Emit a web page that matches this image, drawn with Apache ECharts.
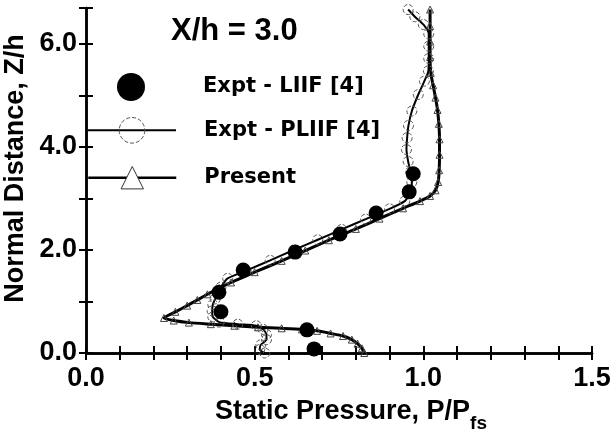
<!DOCTYPE html>
<html>
<head>
<meta charset="utf-8">
<script src="https://cdn.jsdelivr.net/npm/echarts@6/dist/echarts.min.js"></script>
<style>
  html, body { margin: 0; padding: 0; background: #fff; }
  #chart { width: 611px; height: 432px; }
</style>
</head>
<body>
<div id="chart"></div>
<script>
// Static pressure profile at X/h = 3.0: [P/Pfs, Z/h]
const liifPoints = [
  [0.676, 0.08], [0.655, 0.45], [0.400, 0.80], [0.394, 1.18], [0.466, 1.61],
  [0.620, 1.96], [0.753, 2.31], [0.860, 2.72], [0.958, 3.13], [0.970, 3.48]
];

const pliifPoints = [
  [0.530, 0.00], [0.515, 0.07], [0.518, 0.16], [0.535, 0.26], [0.535, 0.36],
  [0.525, 0.46], [0.505, 0.53], [0.450, 0.56], [0.395, 0.60], [0.376, 0.70],
  [0.374, 0.82], [0.376, 0.94], [0.383, 1.05], [0.392, 1.16], [0.400, 1.28],
  [0.420, 1.45], [0.475, 1.60], [0.546, 1.80], [0.616, 2.00], [0.687, 2.20],
  [0.758, 2.40], [0.829, 2.60], [0.900, 2.80], [0.945, 2.95], [0.962, 3.12],
  [0.966, 3.32], [0.962, 3.52], [0.955, 3.72], [0.950, 3.95], [0.952, 4.18],
  [0.956, 4.42], [0.966, 4.70], [0.985, 5.02], [1.003, 5.28], [1.015, 5.48],
  [1.016, 5.72], [1.016, 5.96], [1.016, 6.20], [1.000, 6.38], [0.975, 6.53],
  [0.955, 6.67]
];

const presentPoints = [
  [0.825, 0.00], [0.818, 0.09], [0.805, 0.18], [0.788, 0.26], [0.762, 0.33],
  [0.725, 0.38], [0.685, 0.43], [0.640, 0.46], [0.580, 0.48], [0.510, 0.50],
  [0.440, 0.53], [0.370, 0.56], [0.305, 0.59], [0.260, 0.63], [0.231, 0.68],
  [0.265, 0.80], [0.300, 0.92], [0.330, 1.03], [0.360, 1.14], [0.395, 1.26],
  [0.430, 1.37], [0.500, 1.57], [0.580, 1.79], [0.650, 1.99], [0.720, 2.19],
  [0.800, 2.41], [0.870, 2.61], [0.940, 2.81], [0.990, 2.95], [1.020, 3.05],
  [1.036, 3.16], [1.044, 3.32], [1.047, 3.55], [1.048, 3.85], [1.048, 4.15],
  [1.046, 4.45], [1.042, 4.72], [1.036, 4.96], [1.029, 5.20], [1.022, 5.44],
  [1.020, 5.75], [1.020, 6.05], [1.020, 6.35], [1.020, 6.67]
];

const xTickLabels = ['0.0', '0.5', '1.0', '1.5'];
const yTickLabels = ['0.0', '2.0', '4.0', '6.0'];

const seriesNames = ['Expt - LIIF [4]', 'Expt - PLIIF [4]', 'Present'];

const axisFont = 'Liberation Sans, Arial, sans-serif';
const legendFont = 'DejaVu Sans, Verdana, sans-serif';

// Filled disc centred in an 88 x 28 icon box (the corner moves pin the box size)
const discIcon = 'path://M0,0L0,0M88,28L88,28M58,14A14,14,0,1,1,30,14A14,14,0,1,1,58,14Z';

function tickFormatter(labels) {
  return function (v) {
    const s = (Math.round(v * 10) / 10).toFixed(1);
    return labels.indexOf(s) >= 0 && Math.abs(v * 10 - Math.round(v * 10)) < 1e-6 ? s : '';
  };
}

const frameLine = { show: true, lineStyle: { color: '#000', width: 2.5 } };
const innerTick = { show: true, inside: true, length: 7, lineStyle: { color: '#000', width: 2 } };

const legendBase = {
  orient: 'vertical',
  left: 87,
  padding: 0,
  itemWidth: 88,
  selectedMode: false,
  textStyle: {
    fontFamily: legendFont,
    fontWeight: 'bold',
    fontSize: 21,
    color: '#000',
    padding: [0, 0, 0, 23]
  }
};

const chart = echarts.init(document.getElementById('chart'), null, { renderer: 'canvas' });

chart.setOption({
  animation: false,
  backgroundColor: '#fff',
  title: {
    text: 'X/h = 3.0',
    left: 171,
    top: 16,
    padding: 0,
    textStyle: { fontFamily: axisFont, fontWeight: 'bold', fontSize: 31, color: '#000' }
  },
  legend: [
    Object.assign({}, legendBase, {
      top: 73, itemHeight: 28,
      data: [{ name: seriesNames[0], icon: discIcon, itemStyle: { color: '#000', opacity: 1 } }]
    }),
    Object.assign({}, legendBase, {
      top: 117, itemHeight: 32,
      data: [{
        name: seriesNames[1],
        lineStyle: { color: '#000', width: 2 },
        itemStyle: { color: 'rgba(255,255,255,0)', borderColor: '#555', borderWidth: 1, borderType: 'dashed' }
      }]
    }),
    Object.assign({}, legendBase, {
      top: 166, itemHeight: 28,
      data: [{
        name: seriesNames[2],
        lineStyle: { color: '#000', width: 2.5 },
        itemStyle: { color: '#fff', borderColor: '#333', borderWidth: 1 }
      }]
    })
  ],
  grid: { left: 86, right: 19, top: 8, bottom: 79, containLabel: false, outerBoundsMode: 'none' },
  xAxis: [
    {
      type: 'value', position: 'bottom', min: 0, max: 1.5, interval: 0.1,
      axisLine: frameLine, axisTick: innerTick, splitLine: { show: false },
      axisLabel: {
        formatter: tickFormatter(xTickLabels), margin: 12, showMinLabel: true, showMaxLabel: true,
        fontFamily: axisFont, fontWeight: 'bold', fontSize: 27, color: '#000'
      },
      name: '{a|Static Pressure, P/P}{b|fs}',
      nameLocation: 'middle', nameGap: 45,
      nameTextStyle: {
        padding: [0, 0, 0, 24],
        rich: {
          a: { fontFamily: axisFont, fontWeight: 'bold', fontSize: 27, color: '#000', lineHeight: 35, verticalAlign: 'top' },
          b: { fontFamily: axisFont, fontWeight: 'bold', fontSize: 19, color: '#000', lineHeight: 35, verticalAlign: 'bottom' }
        }
      }
    },
    {
      type: 'value', position: 'top', min: 0, max: 1.5, interval: 0.1,
      axisLine: frameLine, axisTick: innerTick, splitLine: { show: false },
      axisLabel: { show: false }
    }
  ],
  yAxis: [
    {
      type: 'value', position: 'left', min: 0, max: 6.7, interval: 1,
      axisLine: frameLine, axisTick: innerTick, splitLine: { show: false },
      axisLabel: {
        formatter: tickFormatter(yTickLabels), margin: 9,
        fontFamily: axisFont, fontWeight: 'bold', fontSize: 27, color: '#000'
      },
      name: 'Normal Distance, Z/h',
      nameLocation: 'middle', nameGap: 55, nameRotate: 90,
      nameTextStyle: {
        fontFamily: axisFont, fontWeight: 'bold', fontSize: 27, color: '#000',
        padding: [0, 0, 0, 24]
      }
    },
    {
      type: 'value', position: 'right', min: 0, max: 6.7, interval: 1,
      axisLine: frameLine, axisTick: innerTick, splitLine: { show: false },
      axisLabel: { show: false }
    }
  ],
  series: [
    {
      name: seriesNames[2], type: 'line', xAxisIndex: 0, yAxisIndex: 0,
      data: presentPoints, smooth: 0.2, showAllSymbol: true,
      symbol: 'triangle', symbolSize: 7,
      lineStyle: { color: '#000', width: 3 },
      itemStyle: { color: 'rgba(255,255,255,0)', borderColor: '#444', borderWidth: 1 },
      z: 2
    },
    {
      name: seriesNames[1], type: 'line', xAxisIndex: 0, yAxisIndex: 0,
      data: pliifPoints, smooth: 0.2, showAllSymbol: true,
      symbol: 'circle', symbolSize: 10,
      lineStyle: { color: '#000', width: 2 },
      itemStyle: { color: 'rgba(255,255,255,0)', borderColor: '#555', borderWidth: 1, borderType: 'dashed' },
      z: 3
    },
    {
      name: seriesNames[0], type: 'scatter', xAxisIndex: 0, yAxisIndex: 0,
      data: liifPoints, symbol: 'circle', symbolSize: 15,
      itemStyle: { color: '#000', opacity: 1 },
      z: 4
    }
  ]
});
</script>
</body>
</html>
